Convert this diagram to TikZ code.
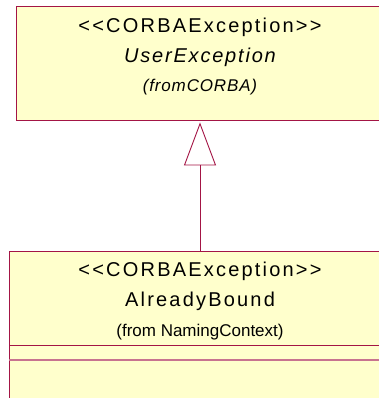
\documentclass[tikz,border=0pt]{standalone}
\usepackage{fontspec}
\setmainfont{Liberation Sans}
\usetikzlibrary{arrows.meta}
\definecolor{umlborder}{HTML}{A31545}
\definecolor{umlfill}{HTML}{FFFFCC}
\newcommand{\lsep}{\kern2.2pt}
\tikzset{
  classbox/.style={draw=umlborder, fill=umlfill, line width=0.9pt, rectangle, inner sep=0pt},
  stereo/.style={font=\fontsize{20}{22}\selectfont\addfontfeature{LetterSpace=11}, inner sep=0pt},
  cname/.style={font=\fontsize{20}{22}\selectfont\addfontfeature{LetterSpace=11}, inner sep=0pt},
  pkg/.style={font=\fontsize{17}{19}\selectfont, inner sep=0pt},
  inherit/.style={draw=umlborder, line width=0.9pt, -{Triangle[open, length=43pt, width=32pt, line width=0.9pt]}}
}
\begin{document}
\begin{tikzpicture}[x=1pt, y=-1pt]
\useasboundingbox (0,0) rectangle (379,398);
\clip (0,0) rectangle (379,398);
% top class
\node[classbox, minimum width=368pt, minimum height=114pt] (ue) at (200,63) {};
\node[stereo] (ueS) at (200,27) {<\lsep<\lsep CORBAException\lsep>\lsep>};
\node[cname, font=\fontsize{20}{22}\selectfont\itshape\addfontfeature{LetterSpace=9}] (ueN) at (200,57) {UserException};
\node[pkg, font=\fontsize{17}{19}\selectfont\itshape\addfontfeature{LetterSpace=5}] (ueP) at (200,87) {(fromCORBA)};
% bottom class
\node[classbox, minimum width=382pt, minimum height=190pt] (ab) at (200,346) {};
\coordinate (c1l) at (9,345);
\coordinate (c1r) at (391,345);
\coordinate (c2l) at (9,360);
\coordinate (c2r) at (391,360);
\draw[draw=umlborder, line width=0.9pt] (c1l) -- (c1r);
\draw[draw=umlborder!60, line width=1.6pt] (c2l) -- (c2r);
\node[stereo] (abS) at (200,271) {<\lsep<\lsep CORBAException\lsep>\lsep>};
\node[cname] (abN) at (200,301) {AlreadyBound};
\node[pkg] (abP) at (200,332) {(from NamingContext)};
% generalization
\draw[inherit, shorten >=2pt] (ab.north) -- (ue.south);
\end{tikzpicture}
\end{document}
